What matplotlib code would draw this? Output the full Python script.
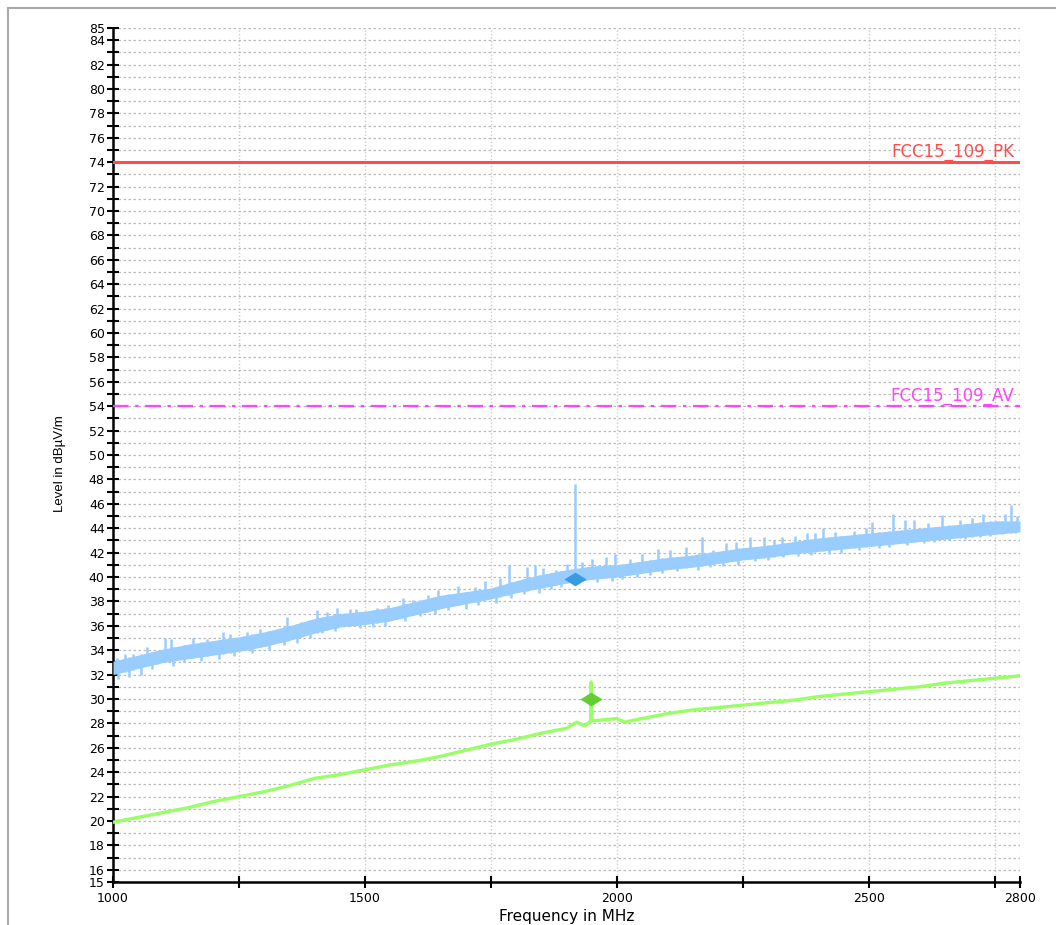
import numpy as np
import matplotlib.pyplot as plt
from matplotlib.lines import Line2D

plt.rcParams['font.family'] = ['Liberation Sans', 'DejaVu Sans']

# peak trace: band envelope (MHz, dBuV/m)
band_freq = [1000, 1050, 1100, 1150, 1200, 1250, 1300, 1350, 1400, 1450,
             1500, 1550, 1600, 1650, 1700, 1750, 1800, 1850, 1900, 1950,
             2000, 2050, 2100, 2150, 2200, 2250, 2300, 2350, 2400, 2450,
             2500, 2550, 2600, 2650, 2700, 2750, 2800]
band_lo = [32.0, 32.5, 33.0, 33.3, 33.6, 33.9, 34.3, 34.8, 35.4, 35.9,
           36.1, 36.4, 36.9, 37.4, 37.8, 38.2, 38.7, 39.1, 39.5, 39.8,
           40.0, 40.3, 40.6, 40.8, 41.1, 41.4, 41.6, 41.9, 42.1, 42.3,
           42.5, 42.7, 42.9, 43.1, 43.3, 43.5, 43.7]
band_hi = [33.1, 33.6, 34.1, 34.5, 34.8, 35.1, 35.5, 36.0, 36.6, 37.0,
           37.2, 37.5, 38.0, 38.5, 38.8, 39.1, 39.7, 40.2, 40.6, 40.9,
           41.0, 41.3, 41.6, 41.8, 42.1, 42.4, 42.6, 42.9, 43.2, 43.4,
           43.6, 43.8, 44.0, 44.2, 44.4, 44.6, 44.6]

# peak trace: spikes above the band
spike_freq = [1007, 1024, 1040, 1067, 1087, 1103, 1116, 1159, 1186, 1219,
              1232, 1265, 1292, 1318, 1345, 1374, 1404, 1424, 1444, 1470,
              1483, 1523, 1546, 1576, 1596, 1626, 1645, 1685, 1718, 1738,
              1768, 1786, 1821, 1837, 1854, 1880, 1900, 1917, 1930, 1950,
              1979, 1996, 2026, 2049, 2082, 2105, 2138, 2168, 2191, 2216,
              2237, 2265, 2291, 2311, 2327, 2354, 2378, 2394, 2410, 2433,
              2470, 2495, 2506, 2547, 2572, 2589, 2618, 2645, 2681, 2704,
              2727, 2771, 2782, 2794]
spike_level = [33.4, 33.7, 33.7, 34.3, 33.9, 35.0, 34.9, 35.0, 34.9, 35.5,
               35.3, 35.5, 35.7, 35.5, 36.7, 36.3, 37.3, 37.1, 37.5, 37.4,
               37.4, 37.5, 37.7, 38.3, 38.1, 38.5, 38.9, 39.3, 39.2, 39.7,
               39.9, 41.0, 40.8, 41.0, 40.7, 40.6, 41.1, 47.6, 41.2, 41.5,
               41.6, 41.9, 41.5, 41.9, 42.3, 42.2, 42.5, 43.3, 42.2, 42.8,
               42.9, 43.3, 43.3, 43.0, 43.3, 43.4, 43.6, 43.6, 44.0, 43.7,
               43.8, 44.0, 44.5, 45.2, 44.7, 44.7, 44.4, 45.1, 44.7, 44.8,
               45.2, 45.2, 45.9, 45.0]

# peak trace: dips below the band
dip_freq = [1010, 1031, 1055, 1078, 1120, 1140, 1175, 1210, 1240, 1275,
            1310, 1340, 1365, 1390, 1415, 1440, 1490, 1515, 1540, 1580,
            1610, 1640, 1665, 1700, 1725, 1760, 1790, 1815, 1845, 1870,
            1890, 1960, 1990, 2010, 2040, 2065, 2090, 2120, 2160, 2185,
            2210, 2240, 2275, 2300, 2330, 2360, 2385, 2420, 2445, 2480,
            2520, 2540, 2575, 2610, 2630, 2660, 2690, 2720, 2740, 2765,
            2790]
dip_level = [31.6, 31.8, 32.0, 32.5, 32.7, 33.0, 33.1, 33.3, 33.5, 33.8,
             34.0, 34.4, 34.6, 35.0, 35.4, 35.6, 35.8, 35.9, 36.0, 36.4,
             36.8, 37.0, 37.3, 37.4, 37.7, 37.9, 38.3, 38.6, 38.7, 39.0,
             39.2, 39.6, 39.7, 39.8, 40.0, 40.2, 40.3, 40.5, 40.6, 40.8,
             40.9, 41.0, 41.3, 41.4, 41.6, 41.7, 41.8, 41.9, 42.0, 42.2,
             42.4, 42.5, 42.6, 42.8, 42.9, 43.0, 43.1, 43.3, 43.4, 43.5,
             43.6]

# average trace
avg_freq = [1000, 1050, 1100, 1150, 1200, 1250, 1300, 1350, 1400, 1450,
            1500, 1550, 1600, 1650, 1700, 1750, 1800, 1850, 1900, 1920,
            1937, 1948, 1949, 1950, 2000, 2015, 2050, 2100, 2150, 2200,
            2250, 2300, 2350, 2400, 2450, 2500, 2550, 2600, 2650, 2700,
            2750, 2800]
avg_level = [19.9, 20.3, 20.7, 21.1, 21.6, 22.0, 22.4, 22.9, 23.5, 23.8,
             24.2, 24.6, 24.9, 25.3, 25.8, 26.3, 26.7, 27.2, 27.6, 28.1,
             27.8, 28.2, 31.4, 28.2, 28.4, 28.1, 28.4, 28.8, 29.1, 29.3,
             29.5, 29.7, 29.9, 30.2, 30.4, 30.6, 30.8, 31.0, 31.3, 31.5,
             31.7, 31.9]

# final measurement markers
pk_marker = (1917, 39.8)
av_marker = (1949, 30.0)

limit_pk = 74
limit_av = 54

xticks = [1000, 1500, 2000, 2500, 2800]
xminor = [1250, 1750, 2250, 2750]
yticks = [15, 16] + list(range(18, 85, 2)) + [85]
yminor = list(range(17, 85, 2))

fig = plt.figure(figsize=(10.56, 9.25), dpi=100)
ax = fig.add_axes([113 / 1056, 1 - 882 / 925, 907 / 1056, 854 / 925])

# outer frame
fig.add_artist(Line2D([8 / 1056, 1], [1 - 8 / 925] * 2, transform=fig.transFigure,
                      color='#aaaaaa', lw=1.5))
fig.add_artist(Line2D([8 / 1056] * 2, [0, 1 - 8 / 925], transform=fig.transFigure,
                      color='#aaaaaa', lw=1.5))

light_blue = '#99ccff'
ax.fill_between(band_freq, band_lo, band_hi, color=light_blue, lw=0, zorder=3)
base = np.interp(spike_freq, band_freq, band_lo)
ax.vlines(spike_freq, base, spike_level, color=light_blue, lw=1.8, zorder=3)
top = np.interp(dip_freq, band_freq, band_hi)
ax.vlines(dip_freq, dip_level, top, color=light_blue, lw=1.8, zorder=3)

ax.plot(avg_freq, avg_level, color='#99ff66', lw=2.4, zorder=3)

diamond = [(-1, 0), (0, 0.62), (1, 0), (0, -0.62), (-1, 0)]
ax.plot(*pk_marker, marker=diamond, ms=16, color='#3b9be0', mec='none', zorder=5)
ax.plot(*av_marker, marker=diamond, ms=16, color='#66cc33', mec='none', zorder=5)

ax.axhline(limit_pk, color='#ff4c4c', lw=2.2, zorder=4)
ax.axhline(limit_av, color='#ff44ff', lw=1.6, ls=(0, (7, 3, 1.5, 3)), zorder=4)
ax.text(2788, limit_pk + 0.1, 'FCC15_109_PK', color='#ff4c4c', fontsize=12,
        family='DejaVu Sans', ha='right', va='bottom', zorder=4)
ax.text(2788, limit_av + 0.1, 'FCC15_109_AV', color='#ff44ff', fontsize=12,
        family='DejaVu Sans', ha='right', va='bottom', zorder=4)

ax.set_xlim(1000, 2800)
ax.set_ylim(15, 85)
ax.set_xticks(xticks)
ax.set_xticks(xminor, minor=True)
ax.set_yticks(yticks)
ax.set_yticks(yminor, minor=True)
ax.tick_params(which='both', direction='inout', length=8, width=1.5,
               labelsize=9, colors='black')
ax.tick_params(axis='y', pad=2)
ax.tick_params(axis='x', pad=3)
for lab in ax.get_xticklabels() + ax.get_yticklabels():
    lab.set_family('DejaVu Sans')

ax.grid(True, which='both', axis='y', color='#bbbbbb', ls=(0, (2, 2)), lw=0.9, zorder=0)
ax.grid(True, which='both', axis='x', color='#cccccc', ls=(0, (1, 1.5)), lw=1.0, zorder=0)
ax.set_axisbelow(True)

for s in ['top', 'right']:
    ax.spines[s].set_visible(False)
for s in ['left', 'bottom']:
    ax.spines[s].set_linewidth(1.8)

ax.set_xlabel('Frequency in MHz', fontsize=11, family='DejaVu Sans', va='center')
ax.xaxis.set_label_coords(0.5, -(916 - 882) / 854)
ax.set_ylabel('Level in dBµV/m', fontsize=9.5,
              family=['Liberation Sans Narrow', 'Liberation Sans'])
ax.yaxis.set_label_coords(-0.052, 0.49)

fig.savefig('out.png', dpi=100)
